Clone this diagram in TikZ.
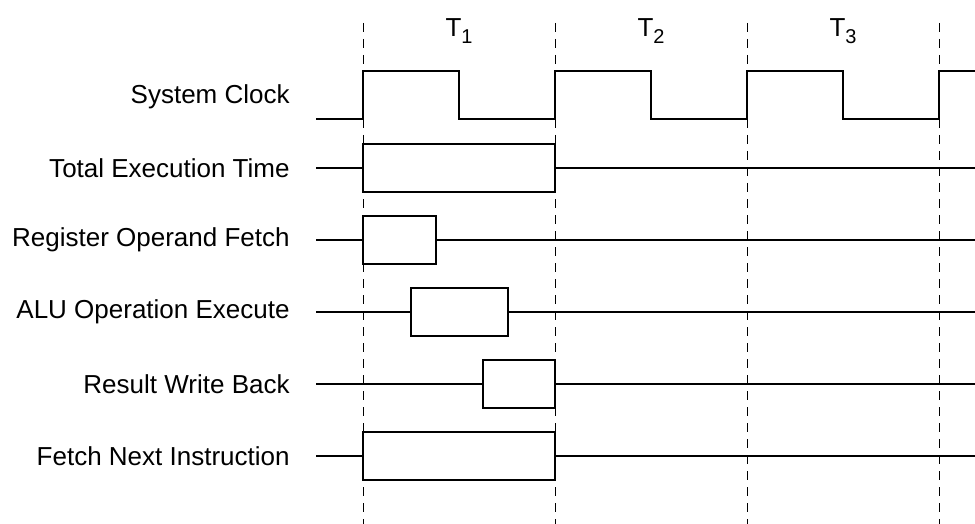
\documentclass[tikz,border=0pt]{standalone}
\usepackage{fontspec}
\setmainfont{Liberation Sans}

\begin{document}
\begin{tikzpicture}[x=0.5pt,y=-0.5pt,
  sig/.style={line width=1.2pt},
  period/.style={line width=0.5pt,dash pattern=on 4.5pt off 3.5pt},
  lbl/.style={anchor=east,inner sep=0pt,font=\fontsize{13}{15}\selectfont}]
  \useasboundingbox (0,0) rectangle (975,524);
  % period boundaries and names
  \foreach \x in {363,555,747,939}
    \draw[period] (\x,23) -- (\x,524);
  \foreach \x/\i in {459/1,651/2,843/3}
    \node[lbl,anchor=center] (t\i) at (\x,31) {T\raisebox{-3.5pt}{\fontsize{10}{10}\selectfont\i}};
  % clock
  \node[lbl] (clk) at (290,97) {System Clock};
  \draw[sig] (316,119) -- (363,119) -- (363,71) -- (459,71) -- (459,119)
    -- (555,119) -- (555,71) -- (651,71) -- (651,119) -- (747,119)
    -- (747,71) -- (843,71) -- (843,119) -- (939,119) -- (939,71) -- (975,71);
  % stages
  \foreach \y/\a/\b/\txt [count=\k] in {168/363/555/Total Execution Time,
      240/363/436/Register Operand Fetch,
      312/411/508/ALU Operation Execute,
      384/483/555/Result Write Back,
      456/363/555/Fetch Next Instruction} {
    \node[lbl] (s\k) at (290,\y) {\txt};
    \draw[sig] (316,\y) -- (\a,\y);
    \draw[sig] (\a,\y-24) rectangle (\b,\y+24);
    \draw[sig] (\b,\y) -- (975,\y);
  }
\end{tikzpicture}
\end{document}
